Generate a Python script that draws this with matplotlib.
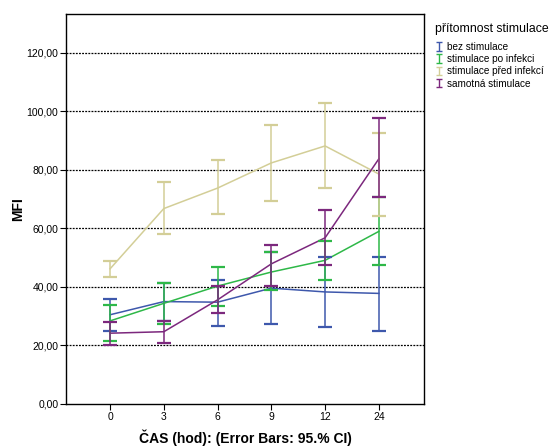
import numpy as np
import matplotlib.pyplot as plt
from matplotlib.legend_handler import HandlerErrorbar
from matplotlib.container import ErrorbarContainer

plt.rcParams['font.family'] = ['Liberation Sans', 'DejaVu Sans']

# time points (categorical)
cas = ['0', '3', '6', '9', '12', '24']

# means and 95% CI for each group
bez_mean = [30.5, 35.0, 34.8, 39.6, 38.3, 37.8]
bez_lo = [24.8, 28.5, 26.7, 27.3, 26.4, 25.0]
bez_hi = [36.0, 41.5, 42.4, 52.0, 50.1, 50.4]

po_mean = [28.4, 34.4, 40.3, 45.1, 49.1, 59.0]
po_lo = [21.7, 27.4, 33.6, 38.8, 42.4, 47.4]
po_hi = [33.9, 41.2, 46.7, 51.8, 55.8, 70.6]

pred_mean = [46.2, 66.8, 73.8, 82.4, 88.2, 78.6]
pred_lo = [43.4, 58.1, 64.9, 69.5, 73.8, 64.3]
pred_hi = [49.0, 75.8, 83.4, 95.4, 102.8, 92.5]

sam_mean = [24.2, 24.7, 35.6, 47.9, 56.8, 83.8]
sam_lo = [20.2, 21.0, 31.1, 40.5, 47.4, 70.6]
sam_hi = [28.0, 28.2, 40.2, 54.4, 66.4, 97.7]

skupiny = ['bez stimulace', 'stimulace po infekci', 'stimulace před infekcí', 'samotná stimulace']
barvy = ['#3E58AC', '#2EB848', '#D3CE97', '#7C287D']

fig = plt.figure(figsize=(5.49, 4.46), dpi=100)
ax = fig.add_axes([0.1202, 0.0942, 0.6521, 0.8744])

x = np.arange(len(cas))
data = [(bez_mean, bez_lo, bez_hi), (po_mean, po_lo, po_hi),
        (pred_mean, pred_lo, pred_hi), (sam_mean, sam_lo, sam_hi)]

for y in [20, 40, 60, 80, 100, 120]:
    ax.axhline(y, color='black', lw=0.9, ls=(0, (1.5, 1)), zorder=0.5)

handles = []
for (m, lo, hi), c, name in zip(data, barvy, skupiny):
    m = np.array(m)
    err = [m - np.array(lo), np.array(hi) - m]
    ax.plot(x, m, color=c, lw=1.1, zorder=2)
    ax.errorbar(x, m, yerr=err, fmt='none', ecolor=c, elinewidth=1.1,
                capsize=4.8, capthick=1.6, zorder=3)
    # small proxy for the legend symbol
    h = ax.errorbar([np.nan], [np.nan], yerr=[1], fmt='none', ecolor=c,
                    elinewidth=1.0, capsize=2.2, capthick=1.0)
    handles.append(h)

ax.set_xlim(-0.82, 5.84)
ax.set_ylim(0, 133.3)
ax.set_xticks(x)
ax.set_xticklabels(cas, fontsize=7.5)
ax.set_yticks([0, 20, 40, 60, 80, 100, 120])
ax.set_yticklabels(['%d,00' % v for v in [0, 20, 40, 60, 80, 100, 120]], fontsize=7.5)
ax.tick_params(direction='out', length=4, width=0.8, color='black', pad=1.5)
for s in ax.spines.values():
    s.set_linewidth(1.0)

ax.set_xlabel('ČAS (hod): (Error Bars: 95.% CI)', fontsize=10, fontweight='bold', labelpad=6)
ax.set_ylabel('MFI', fontsize=10, fontweight='bold', labelpad=1)

fig.text(0.7923, 0.935, 'přítomnost stimulace', fontsize=8.8, va='center', ha='left')
leg = fig.legend(handles=handles, labels=skupiny, loc='upper left',
                 bbox_to_anchor=(0.795, 0.906), frameon=False, fontsize=7.2,
                 handlelength=0.5, handletextpad=0.6, labelspacing=0.22,
                 borderpad=0, borderaxespad=0,
                 handler_map={ErrorbarContainer: HandlerErrorbar(yerr_size=0.42)})

fig.savefig('out.png', dpi=100)
